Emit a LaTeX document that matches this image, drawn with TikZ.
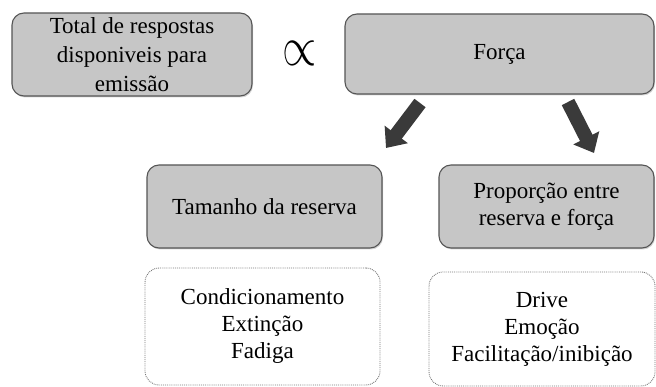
\documentclass[tikz,border=0pt]{standalone}
\usepackage{amsmath}
\usepackage{fontspec}
\setmainfont{Liberation Serif}
\usetikzlibrary{arrows.meta,shadows}
\definecolor{boxgray}{HTML}{C6C6C6}
\definecolor{edgegray}{HTML}{555555}
\definecolor{arrowgray}{HTML}{3A3A3A}
\begin{document}
\begin{tikzpicture}[x=1pt, y=-1pt,
    caixa/.style={draw=edgegray, fill=boxgray, line width=1.1pt, rounded corners=12pt,
        align=center, inner sep=0pt, font=\fontsize{23}{27}\selectfont,
        drop shadow={shadow xshift=1pt, shadow yshift=-1.5pt, opacity=0.35}},
    pontilhada/.style={draw=edgegray!80, densely dotted, line width=0.9pt, rounded corners=14pt,
        align=center, inner sep=0pt, font=\fontsize{23}{27}\selectfont},
    seta/.style={arrowgray, line width=14pt, -{Triangle[width=28pt,length=17pt]}}]
    \useasboundingbox (0,0) rectangle (656,387);
    % Top row
    \node[caixa, minimum width=240pt, minimum height=83pt, font=\fontsize{23}{29}\selectfont] (tot) at (132,54.5)
        {Total de respostas\\disponiveis para\\emissão};
    \node (prop0) at (300,53) {\scalebox{4.4}[5.6]{$\propto$}};
    \node[caixa, minimum width=309pt, minimum height=80pt] (forca) at (499.5,54) {Força};
    % Middle row
    \node[caixa, minimum width=235pt, minimum height=83pt] (tam) at (264.5,206.5)
        {Tamanho da reserva};
    \node[caixa, minimum width=215pt, minimum height=83pt] (prop) at (546.5,206.5)
        {Proporção entre\\reserva e força};
    % Bottom row
    \node[pontilhada, minimum width=235pt, minimum height=117pt] (cond) at (262.5,326.5)
        {Condicionamento\\Extinção\\Fadiga};
    \node[pontilhada, minimum width=226pt, minimum height=114pt] (drive) at (542,329)
        {Drive\\Emoção\\Facilitação/inibição};
    % Arrows
    \coordinate (s1a) at (420,103);
    \coordinate (s1b) at (386,148);
    \coordinate (s2a) at (568,102);
    \coordinate (s2b) at (594,153);
    \draw[seta] (s1a) -- (s1b);
    \draw[seta] (s2a) -- (s2b);
\end{tikzpicture}
\end{document}
